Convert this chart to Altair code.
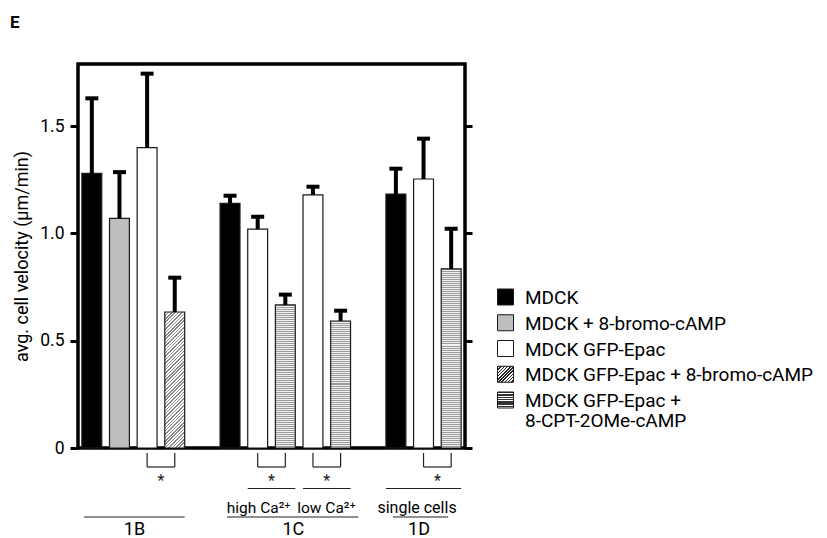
import math
import altair as alt
import pandas as pd

# ---------------- data ----------------
conditions = [
    "MDCK",
    "MDCK + 8-bromo-cAMP",
    "MDCK GFP-Epac",
    "MDCK GFP-Epac + 8-bromo-cAMP",
    "MDCK GFP-Epac + 8-CPT-2OMe-cAMP",
]
legend_labels = [
    "MDCK",
    "MDCK + 8-bromo-cAMP",
    "MDCK GFP-Epac",
    "MDCK GFP-Epac + 8-bromo-cAMP",
    "MDCK GFP-Epac +\n8-CPT-2OMe-cAMP",
]
bar_ids = ["1B-1", "1B-2", "1B-3", "1B-4",
           "1C-1", "1C-2", "1C-3", "1C-4", "1C-5",
           "1D-1", "1D-2", "1D-3"]
bar_cond = [0, 1, 2, 3, 0, 2, 4, 2, 4, 0, 2, 4]
means = [1.28, 1.07, 1.40, 0.634, 1.14, 1.02, 0.667, 1.18, 0.592, 1.184, 1.254, 0.835]
sems = [0.35, 0.216, 0.345, 0.16, 0.036, 0.058, 0.048, 0.038, 0.048, 0.118, 0.188, 0.187]
slots = ["1B-1", "1B-2", "1B-3", "1B-4", "gap-1",
         "1C-1", "1C-2", "1C-3", "1C-4", "1C-5", "gap-2",
         "1D-1", "1D-2", "1D-3"]
y_ticks = [0, 0.5, 1.0, 1.5]
y_max = 1.79

brackets_a = ["1B-3", "1C-2", "1C-4", "1D-2"]
brackets_b = ["1B-4", "1C-3", "1C-5", "1D-3"]
sig_a = ["1C-2", "1C-4", "1D-1"]
sig_b = ["1C-3", "1C-5", "1D-3"]

# ---------------- layout constants ----------------
W, H = 387, 384
PXU = H / y_max
BANDW = W / len(slots) * 0.72
FONT = "Roboto"

df = pd.DataFrame({
    "bar": bar_ids,
    "cond": [conditions[c] for c in bar_cond],
    "mean": means,
    "upper": [m + s for m, s in zip(means, sems)],
})

xscale = alt.Scale(domain=slots, paddingInner=0.28, paddingOuter=0.14)
yscale = alt.Scale(domain=[0, y_max], nice=False, zero=True)
X = alt.X("bar:N", scale=xscale, axis=None)


def stripes(h, period, dark, light, frac):
    n = max(1, round(h / period))
    stops = []
    for k in range(n):
        a, b, c = k / n, (k + frac) / n, (k + 1) / n
        stops += [{"offset": round(a, 5), "color": dark},
                  {"offset": round(b, 5), "color": dark},
                  {"offset": round(b, 5), "color": light},
                  {"offset": round(c, 5), "color": light}]
    return {"gradient": "linear", "x1": 0, "y1": 0, "x2": 0, "y2": 1, "stops": stops}


def hatch(w, h, spacing, dark, light, frac):
    c = (w + h) / (w * w + h * h)
    n = max(1, round((w + h) / math.sqrt(2) / spacing))
    g = stripes(n, 1, dark, light, frac)
    g.update({"x1": 0, "y1": 0, "x2": round(c * w, 5), "y2": round(c * h, 5)})
    return g


left_axis = alt.Axis(
    orient="left", values=y_ticks,
    labelExpr="datum.value == 0 ? '0' : format(datum.value, '.1f')",
    title="avg. cell velocity (µm/min)", tickSize=8, tickWidth=3, tickColor="black",
    domain=False, grid=False, labelFontSize=17.5, labelPadding=6, labelColor="black",
    labelFont=FONT, titleFont=FONT, titleFontSize=18, titleFontWeight="normal",
    titleColor="black", titleX=-51, titleY=H / 2, titleBaseline="alphabetic",
)
right_axis = alt.Axis(
    orient="right", values=y_ticks, labels=False, title="", tickSize=7, tickWidth=3,
    tickColor="black", domain=False, grid=False,
)

layers = []
solid_fill = {0: "black", 1: "#bebebe", 2: "white"}
first = True
for c, fill in solid_fill.items():
    layers.append(
        alt.Chart(df).transform_filter(alt.datum.cond == conditions[c])
        .mark_bar(fill=fill, stroke="#1a1a1a", strokeWidth=1.2)
        .encode(x=X, y=alt.Y("mean:Q", scale=yscale, axis=left_axis if first else None))
    )
    first = False

for bid, c, m in zip(bar_ids, bar_cond, means):
    if c not in (3, 4):
        continue
    h = m * PXU
    if c == 3:
        fill = hatch(BANDW, h, 2.4, "#8a8a8a", "white", 0.45)
    else:
        fill = stripes(h, 2.0, "#9a9a9a", "#f2f2f2", 0.5)
    layers.append(
        alt.Chart(df).transform_filter(alt.datum.bar == bid)
        .mark_bar(fill=fill, stroke="#1a1a1a", strokeWidth=1.2)
        .encode(x=X, y=alt.Y("mean:Q", scale=yscale, axis=None))
    )

# error bars
layers.append(
    alt.Chart(df).mark_rule(color="black", strokeWidth=4)
    .encode(x=X, y=alt.Y("mean:Q", scale=yscale, axis=right_axis), y2="upper:Q")
)
layers.append(
    alt.Chart(df).mark_tick(orient="horizontal", color="black", size=13, thickness=4, opacity=1)
    .encode(x=X, y=alt.Y("upper:Q", scale=yscale, axis=None))
)

# significance brackets
dfb = pd.DataFrame({"a": brackets_a, "b": brackets_b})
LINE = dict(color="#222222", strokeWidth=1.2)
for col in ("a", "b"):
    layers.append(
        alt.Chart(dfb).mark_rule(**LINE).encode(
            x=alt.X(f"{col}:N", scale=xscale, axis=None, bandPosition=0.5),
            y=alt.value(389), y2=alt.value(403))
    )
layers.append(
    alt.Chart(dfb).mark_rule(**LINE).encode(
        x=alt.X("a:N", scale=xscale, axis=None, bandPosition=0.5),
        x2=alt.X2("b:N", bandPosition=0.5), y=alt.value(403))
)
layers.append(
    alt.Chart(dfb).mark_text(text="*", dx=W / len(slots) / 2, fontSize=16, font=FONT,
                             color="#222222", baseline="middle")
    .encode(x=alt.X("a:N", scale=xscale, axis=None, bandPosition=0.5), y=alt.value(417))
)
dfs = pd.DataFrame({"a": sig_a, "b": sig_b})
layers.append(
    alt.Chart(dfs).mark_rule(**LINE).encode(
        x=alt.X("a:N", scale=xscale, axis=None, bandPosition=0),
        x2=alt.X2("b:N", bandPosition=1), y=alt.value(424.5))
)


def label(text, bar, dx, y, size):
    d = pd.DataFrame({"bar": [bar], "t": [text]})
    return alt.Chart(d).mark_text(dx=dx, fontSize=size, font=FONT, color="black",
                                  baseline="alphabetic", align="center").encode(
        x=alt.X("bar:N", scale=xscale, axis=None, bandPosition=0.5),
        y=alt.value(y), text="t:N")


layers += [label("high Ca²⁺", "1C-2", 1, 449, 15.5),
           label("low Ca²⁺", "1C-4", 13.5, 449, 15.5),
           label("single cells", "1D-2", -6.5, 449, 16),
           label("1B", "1B-2", 15, 471, 18),
           label("1C", "1C-3", 8, 471, 18),
           label("1D", "1D-2", -4.5, 471, 18)]


def lower_line(a, pa, b, pb):
    d = pd.DataFrame({"a": [a], "b": [b]})
    return alt.Chart(d).mark_rule(**LINE).encode(
        x=alt.X("a:N", scale=xscale, axis=None, bandPosition=pa),
        x2=alt.X2("b:N", bandPosition=pb), y=alt.value(453))


layers += [lower_line("1B-1", 0.1, "1B-4", 1.0),
           lower_line("1C-1", 0.35, "gap-2", 0.0),
           lower_line("1D-1", 0.35, "1D-3", 0.35)]

# legend (drawn with marks)
dfl = pd.DataFrame({"key": conditions, "label": legend_labels})
lscale = alt.Scale(type="point", domain=conditions, range=[233, 336], padding=0)
SQ = 16
legend_fills = ["black", "#bebebe", "white",
                hatch(SQ, SQ, 2.3, "#222222", "white", 0.5),
                stripes(SQ, 2.3, "#333333", "white", 0.6)]
for key, fill in zip(conditions, legend_fills):
    layers.append(
        alt.Chart(dfl).transform_filter(alt.datum.key == key)
        .mark_square(fill=fill, stroke="#1a1a1a", strokeWidth=1, size=SQ * SQ, opacity=1)
        .encode(x=alt.value(427.5), y=alt.Y("key:N", scale=lscale, axis=None))
    )
layers.append(
    alt.Chart(dfl).mark_text(align="left", baseline="alphabetic", dy=7, fontSize=19,
                             font=FONT, color="black", lineBreak="\n", lineHeight=19.5)
    .encode(x=alt.value(447), y=alt.Y("key:N", scale=lscale, axis=None), text="label:N")
)

chart = (
    alt.layer(*layers)
    .resolve_scale(y="independent")
    .properties(
        width=W, height=H,
        padding={"left": 70, "top": 56, "right": 354, "bottom": 90},
        autosize=alt.AutoSizeParams(type="none"),
        title=alt.TitleParams("E", anchor="start", frame="group", dx=-68, offset=32,
                              fontSize=17, fontWeight="bold", font=FONT, color="black"),
    )
    .configure(font=FONT)
    .configure_view(stroke="black", strokeWidth=3.5)
)

chart.save("out.html", embed_options={"renderer": "svg", "actions": False})
